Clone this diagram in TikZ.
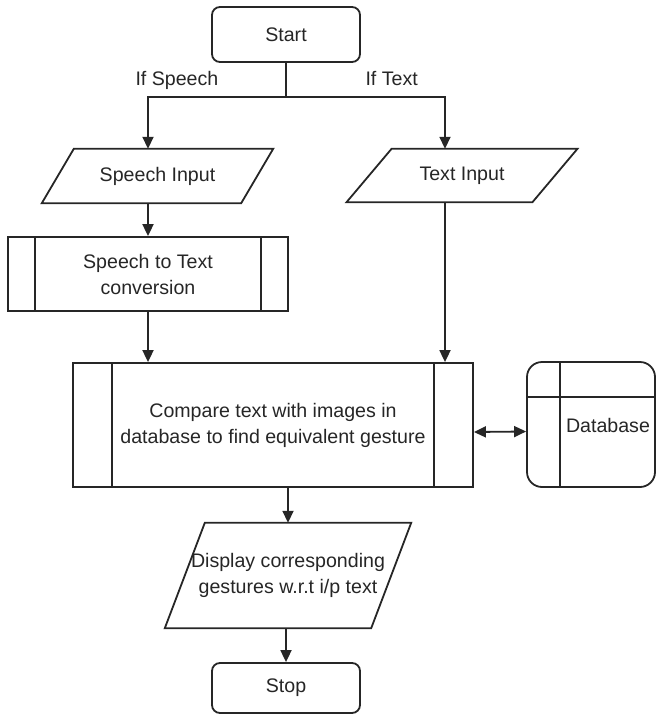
\documentclass[tikz,border=0pt]{standalone}
\usepackage{fontspec}
\setmainfont{Liberation Sans}
\usetikzlibrary{arrows.meta,calc}
\definecolor{ink}{HTML}{262626}
% slanted input/output frame around a (borderless) text node
\newcommand\slantframe[2]{%
  \draw[line] ($(#1.north west)+(#2,0)$) -- ($(#1.north east)+(#2,0)$)
    -- ($(#1.south east)+(-#2,0)$) -- ($(#1.south west)+(-#2,0)$) -- cycle;}
% inner bars of a predefined-process box
\newcommand\procbars[2]{%
  \draw[line] ($(#1.north west)+(#2,0)$) -- ($(#1.south west)+(#2,0)$);
  \draw[line] ($(#1.north east)+(-#2,0)$) -- ($(#1.south east)+(-#2,0)$);}
\begin{document}
\begin{tikzpicture}[x=1pt,y=-1pt,
  every node/.style={font=\fontsize{19.6}{26}\selectfont, text=ink, align=center},
  line/.style={draw=ink, line width=1.8pt},
  arr/.style={line, -{Triangle[width=11pt,length=12pt]}},
  twoway/.style={line, {Triangle[width=11pt,length=12pt]}-{Triangle[width=11pt,length=12pt]}},
  term/.style={line, rounded corners=8pt, minimum width=148pt, inner sep=0pt},
  proc/.style={line, inner sep=0pt},
  io/.style={inner sep=0pt}]
\useasboundingbox (0,0) rectangle (657,717);

% nodes
\node[term, minimum height=55pt] (start) at (286,34.5) {Start};
\node[io, minimum width=199pt, minimum height=54pt] (si) at (157.5,176) {Speech Input};
\node[io, minimum width=185.5pt, minimum height=53pt] (ti) at (462,175.5) {Text Input};
\node[proc, minimum width=280pt, minimum height=74pt] (s2t) at (148,274) {Speech to Text\\conversion};
\node[proc, minimum width=400pt, minimum height=124pt] (cmp) at (273,425) {Compare text with images in\\database to find equivalent gesture};
\node[line, rounded corners=15pt, minimum width=128pt, minimum height=125pt, inner sep=0pt] (db) at (591,424.5) {};
\node (dbt) at (608,425) {Database};
\node[io, minimum width=206pt, minimum height=105pt] (disp) at (288,575.5) {Display corresponding\\gestures w.r.t i/p text};
\node[term, minimum height=50pt] (stop) at (286,688) {Stop};

% shape details
\slantframe{si}{16}
\slantframe{ti}{22.5}
\slantframe{disp}{20}
\procbars{s2t}{28}
\procbars{cmp}{40}
\draw[line] ($(db.north west)+(34,0)$) -- ($(db.south west)+(34,0)$);
\draw[line] ($(db.north west)+(0,36)$) -- ($(db.north east)+(0,36)$);

% branch labels
\node[anchor=base west] (lsp) at (132,85) {If Speech};
\node[anchor=base west] (ltx) at (362,85) {If Text};

% connectors
\coordinate (brY) at (0,97);
\coordinate (rx) at (445,0);
\coordinate (br) at (start.south |- brY);
\draw[line] (start.south) -- (br);
\draw[arr] (br) -| (si.north -| s2t.north);
\draw[arr] (br) -| (ti.north -| rx);
\draw[arr] (si.south -| s2t.north) -- (s2t.north);
\draw[arr] (ti.south -| rx) -- (cmp.north -| rx);
\draw[arr] (s2t.south) -- (cmp.north -| s2t.south);
\draw[arr] (cmp.south -| disp.north) -- (disp.north);
\draw[arr] (disp.south -| stop.north) -- (stop.north);
\draw[twoway] ($(cmp.east)+(0,7)$) -- ($(db.west)+(0,7)$);
\end{tikzpicture}
\end{document}
